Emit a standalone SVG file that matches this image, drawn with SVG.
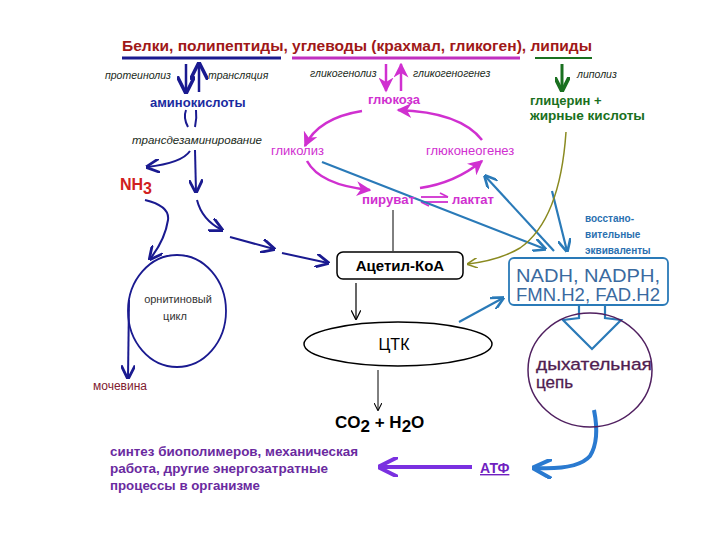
<svg xmlns="http://www.w3.org/2000/svg" width="720" height="540" viewBox="0 0 720 540">
<style>
text{font-family:"Liberation Sans",Arial,sans-serif}
.t{font-size:15.5px;font-weight:bold;fill:#a01818}
.it{font-size:10.5px;font-style:italic;fill:#1a2a1a}
.blu{stroke:#1a1a90;stroke-width:2;fill:none}
.mag{stroke:#d030d0;stroke-width:2.5;fill:none}
.stl{stroke:#2a7ab8;stroke-width:2.2;fill:none}
.blk{stroke:#000;stroke-width:1.2;fill:none}
</style>
<defs>
<marker id="ab" viewBox="0 0 10 10" refX="9" refY="5" markerWidth="7" markerHeight="7" orient="auto"><path d="M0,0 L10,5 L0,10" fill="none" stroke="#1a1a90" stroke-width="2"/></marker>
<marker id="am" viewBox="0 0 10 10" refX="9" refY="5" markerWidth="6" markerHeight="6" orient="auto"><path d="M0,0 L10,5 L0,10 L3,5z" fill="#d030d0"/></marker>
<marker id="as" viewBox="0 0 10 10" refX="9" refY="5" markerWidth="6" markerHeight="6" orient="auto"><path d="M0,0 L10,5 L0,10" fill="none" stroke="#2a7ab8" stroke-width="2"/></marker>
<marker id="ak" viewBox="0 0 10 10" refX="9" refY="5" markerWidth="8" markerHeight="8" orient="auto"><path d="M0,0 L10,5 L0,10" fill="none" stroke="#000" stroke-width="1.3"/></marker>
<marker id="ao" viewBox="0 0 10 10" refX="9" refY="5" markerWidth="7" markerHeight="7" orient="auto"><path d="M0,0 L10,5 L0,10" fill="none" stroke="#8a8a20" stroke-width="1.5"/></marker>
<marker id="ag" viewBox="0 0 10 10" refX="9" refY="5" markerWidth="5" markerHeight="5" orient="auto"><path d="M0,0 L10,5 L0,10" fill="none" stroke="#1a7020" stroke-width="2.5"/></marker>
<marker id="ap" viewBox="0 0 10 10" refX="8" refY="5" markerWidth="5" markerHeight="5" orient="auto"><path d="M0,0 L10,5 L0,10" fill="none" stroke="#7a30e0" stroke-width="2"/></marker>
<marker id="ab2" viewBox="0 0 10 10" refX="8" refY="5" markerWidth="5" markerHeight="5" orient="auto"><path d="M0,0 L10,5 L0,10" fill="none" stroke="#2a7ad0" stroke-width="2"/></marker>
</defs>

<g id="title">
<text x="122" y="51" class="t" textLength="470" lengthAdjust="spacingAndGlyphs">Белки, полипептиды, углеводы (крахмал, гликоген), липиды</text>
<line x1="122" y1="58" x2="281" y2="58" stroke="#1a1a90" stroke-width="3"/>
<line x1="292" y1="58" x2="520" y2="58" stroke="#c030c0" stroke-width="3"/>
<line x1="535" y1="58" x2="592" y2="58" stroke="#1a7020" stroke-width="2"/>
</g>

<g id="connectors">
<line x1="186" y1="64" x2="186" y2="92" stroke="#1a1a90" stroke-width="2.5" marker-end="url(#ab)"/>
<line x1="199" y1="92" x2="199" y2="64" stroke="#1a1a90" stroke-width="2.5" marker-end="url(#ab)"/>
<line x1="386" y1="64" x2="386" y2="91" stroke="#d030d0" stroke-width="2.5" marker-end="url(#am)"/>
<line x1="401" y1="91" x2="401" y2="64" stroke="#d030d0" stroke-width="2.5" marker-end="url(#am)"/>
<line x1="562" y1="64" x2="562" y2="90" stroke="#1a7020" stroke-width="3" marker-end="url(#ag)"/>
<path d="M362,111 Q318,118 305,146" class="mag" marker-end="url(#am)"/>
<path d="M482,140 Q460,112 398,110" class="mag" marker-end="url(#am)"/>
<path d="M307,161 Q320,185 370,190" class="mag" marker-end="url(#am)"/>
<path d="M420,188 Q455,183 482,161" class="mag" marker-end="url(#am)"/>
<line x1="421" y1="197" x2="448" y2="197" stroke="#d030d0" stroke-width="1.8"/>
<path d="M440,193 L448,197" stroke="#d030d0" stroke-width="1.8"/>
<line x1="421" y1="202" x2="448" y2="202" stroke="#d030d0" stroke-width="1.8"/>
<path d="M421,202 L429,206" stroke="#d030d0" stroke-width="1.8"/>
<path d="M186,110 Q183,118 188,127" class="blu"/>
<path d="M196,110 Q197,118 195,127" class="blu"/>
<path d="M190,151 Q182,163 147,167" class="blu" marker-end="url(#ab)"/>
<line x1="195" y1="150" x2="196" y2="192" class="blu" marker-end="url(#ab)"/>
<path d="M197,200 Q202,220 222,230" class="blu" marker-end="url(#ab)"/>
<line x1="230" y1="237" x2="274" y2="249" class="blu" marker-end="url(#ab)"/>
<line x1="282" y1="253" x2="328" y2="263" class="blu" marker-end="url(#ab)"/>
<path d="M145,200 Q170,206 168,220 Q165,240 150,259" class="blu" marker-end="url(#ab)"/>
<path d="M129,300 L128,378" class="blu" marker-end="url(#ab)"/>
<line x1="322" y1="162" x2="545" y2="249" class="stl" marker-end="url(#as)"/>
<line x1="554" y1="251" x2="485" y2="176" class="stl" marker-end="url(#as)"/>
<line x1="552" y1="191" x2="567" y2="251" class="stl" marker-end="url(#as)"/>
<line x1="459" y1="322" x2="503" y2="298" class="stl" marker-end="url(#as)"/>
<path d="M566,132 Q560,220 520,248 Q500,260 468,264" stroke="#8a8a20" stroke-width="1.5" fill="none" marker-end="url(#ao)"/>
<line x1="393" y1="210" x2="393" y2="251" stroke="#000" stroke-width="1"/>
<line x1="356" y1="283" x2="356" y2="319" class="blk" marker-end="url(#ak)"/>
<line x1="378" y1="370" x2="378" y2="410" stroke="#000" stroke-width="1" marker-end="url(#ak)"/>
<path d="M579,306 L579,318 L563,320 L592,349 L621,320 L605,318 L605,306" stroke="#2a7ab8" stroke-width="2.2" fill="#fff"/>
<path d="M594,410 Q600,440 590,456 Q578,470 536,468" stroke="#2a7ad0" stroke-width="4" fill="none" marker-end="url(#ab2)"/>
<line x1="472" y1="467" x2="382" y2="467" stroke="#7a30e0" stroke-width="4" marker-end="url(#ap)"/>
</g>

<g id="labels">
<text x="105" y="79" class="it">протеинолиз</text>
<text x="208" y="79" class="it">трансляция</text>
<text x="150" y="107" font-size="13" font-weight="bold" fill="#1a2aa0">аминокислоты</text>
<text x="310" y="77" class="it" fill="#333">гликогенолиз</text>
<text x="413" y="77" class="it" fill="#333">гликогеногенез</text>
<text x="368" y="104" font-size="13" font-weight="bold" fill="#d030d0">глюкоза</text>
<text x="577" y="78" class="it">липолиз</text>
<text x="530" y="105" font-size="13" font-weight="bold" fill="#1a7020">глицерин +</text>
<text x="530" y="120" font-size="13" font-weight="bold" fill="#1a7020" textLength="115" lengthAdjust="spacingAndGlyphs">жирные кислоты</text>
<text x="271" y="155" font-size="13" fill="#d030d0">гликолиз</text>
<text x="426" y="155" font-size="13" fill="#d030d0">глюконеогенез</text>
<text x="362" y="204" font-size="13" font-weight="bold" fill="#d030d0" textLength="53" lengthAdjust="spacingAndGlyphs">пируват</text>
<text x="452" y="204" font-size="13" font-weight="bold" fill="#d030d0">лактат</text>
<text x="132" y="144" class="it" fill="#1a1a80" textLength="130" lengthAdjust="spacingAndGlyphs">трансдезаминирование</text>
<text x="120" y="190" font-size="16" font-weight="bold" fill="#d02020">NH<tspan dy="4">3</tspan></text>
<text x="585" y="222" font-size="10" font-weight="bold" fill="#2a70b0">восстано-</text>
<text x="585" y="238" font-size="10" font-weight="bold" fill="#2a70b0">вительные</text>
<text x="585" y="254" font-size="10" font-weight="bold" fill="#2a70b0">эквиваленты</text>
<text x="93" y="390" font-size="12" fill="#802030">мочевина</text>
<text x="110" y="456" font-size="13" font-weight="bold" fill="#6a2aa0" textLength="248" lengthAdjust="spacingAndGlyphs">синтез биополимеров, механическая</text>
<text x="110" y="473" font-size="13" font-weight="bold" fill="#6a2aa0" textLength="218" lengthAdjust="spacingAndGlyphs">работа, другие энергозатратные</text>
<text x="110" y="490" font-size="13" font-weight="bold" fill="#6a2aa0" textLength="150" lengthAdjust="spacingAndGlyphs">процессы в организме</text>
<text x="335" y="428" font-family="DejaVu Sans" font-size="17" font-weight="bold" fill="#000">CO<tspan dy="4">2</tspan><tspan dy="-4"> + H</tspan><tspan dy="4">2</tspan><tspan dy="-4">O</tspan></text>
</g>

<g id="acetyl">
<rect x="337" y="252" width="126" height="27" rx="6" fill="#fff" stroke="#000" stroke-width="1.5"/>
<text x="400" y="271" font-size="15" font-weight="bold" text-anchor="middle" fill="#000">Ацетил-КоА</text>
</g>

<g id="ctk">
<ellipse cx="398" cy="344" rx="94" ry="22" fill="#fff" stroke="#000" stroke-width="1.5"/>
<text x="394" y="350" font-size="16" font-family="DejaVu Sans" text-anchor="middle" fill="#000">ЦТК</text>
</g>

<g id="nadh">
<rect x="509" y="258" width="159" height="47" rx="5" fill="#fff" stroke="#2a7ab8" stroke-width="1.8"/>
<text x="516" y="282" font-size="18" font-family="DejaVu Sans" fill="#3a6aa0" textLength="144" lengthAdjust="spacingAndGlyphs">NADH, NADPH,</text>
<text x="516" y="301" font-size="18" font-family="DejaVu Sans" fill="#3a6aa0" textLength="144" lengthAdjust="spacingAndGlyphs">FMN.H2, FAD.H2</text>
</g>

<g id="ornithine">
<ellipse cx="177" cy="311" rx="49" ry="56" fill="none" stroke="#1a1a90" stroke-width="1.8"/>
<text x="178" y="303" font-size="11" text-anchor="middle" fill="#333">орнитиновый</text>
<text x="175" y="320" font-size="11" text-anchor="middle" fill="#333">цикл</text>
</g>

<g id="resp">
<ellipse cx="590" cy="370" rx="62" ry="57" fill="none" stroke="#502060" stroke-width="1.5"/>
<text x="536" y="370" font-size="17" font-family="DejaVu Sans" fill="#502050" stroke="#502050" stroke-width="0.3" textLength="116" lengthAdjust="spacingAndGlyphs">дыхательная</text>
<text x="536" y="388" font-size="17" font-family="DejaVu Sans" fill="#502050" stroke="#502050" stroke-width="0.3">цепь</text>
</g>

<g id="atf">
<text x="480" y="473" font-size="14" font-weight="bold" fill="#7020c0" text-decoration="underline">АТФ</text>
</g>
</svg>
